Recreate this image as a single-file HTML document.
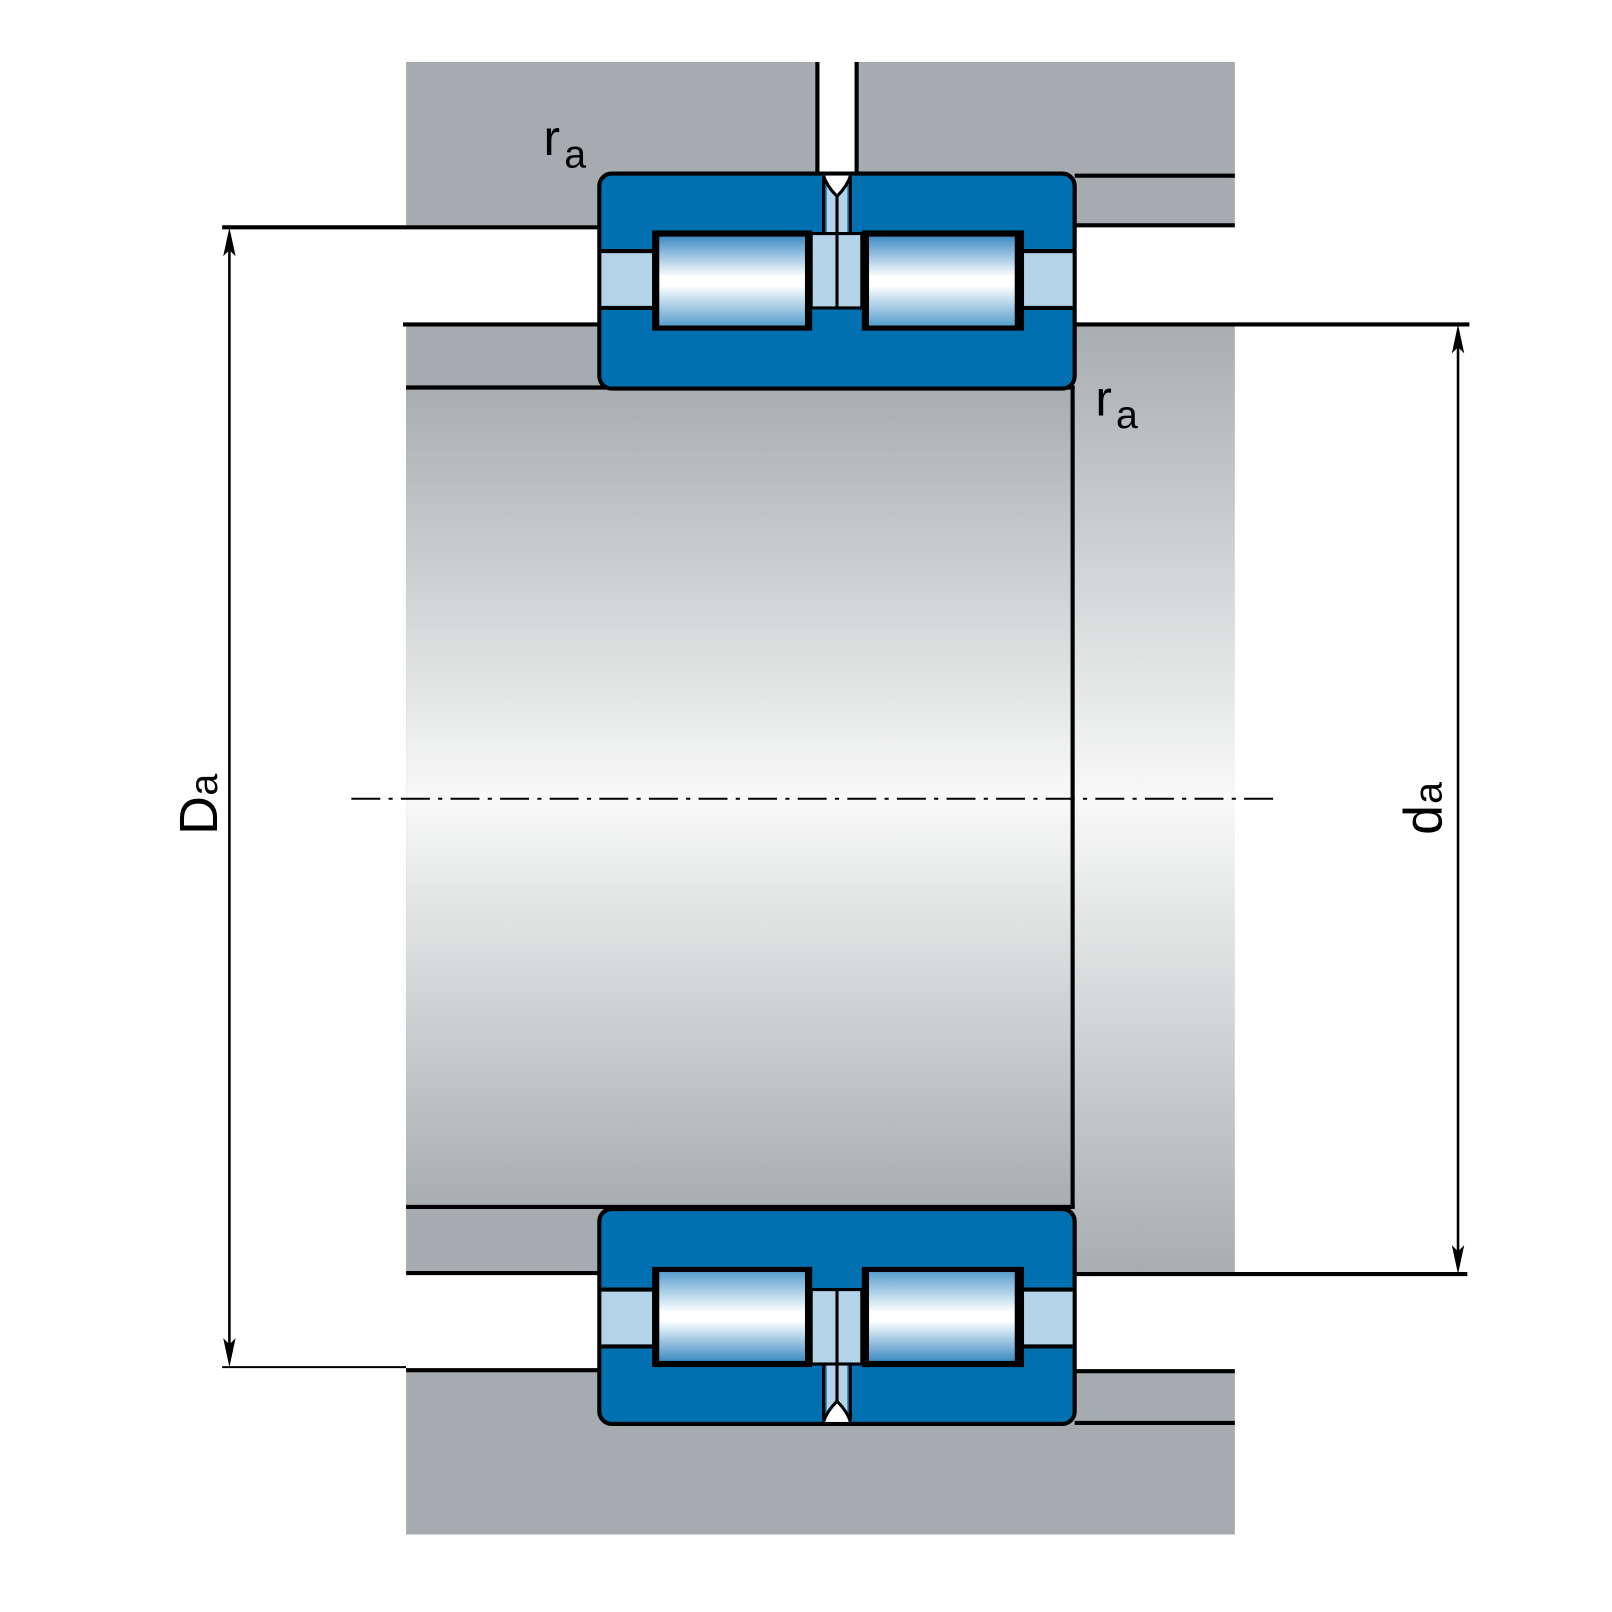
<!DOCTYPE html>
<html><head><meta charset="utf-8"><style>html,body{margin:0;padding:0;background:#fff}svg{display:block}</style></head>
<body>
<svg width="1612" height="1612" viewBox="0 0 1560 1560" xmlns="http://www.w3.org/2000/svg">
<defs>
<linearGradient id="shaft" x1="0" y1="375" x2="0" y2="1168" gradientUnits="userSpaceOnUse">
<stop offset="0" stop-color="#a8adb0"/><stop offset="0.5" stop-color="#f8f9f8"/><stop offset="1" stop-color="#a8adb0"/></linearGradient>
<linearGradient id="shaft2" x1="0" y1="313" x2="0" y2="1232" gradientUnits="userSpaceOnUse">
<stop offset="0" stop-color="#a8adb0"/><stop offset="0.5" stop-color="#f8f9f8"/><stop offset="1" stop-color="#a8adb0"/></linearGradient>
<linearGradient id="roll" x1="0" y1="0" x2="0" y2="1">
<stop offset="0" stop-color="#3f8cc4"/><stop offset="0.45" stop-color="#ffffff"/><stop offset="0.55" stop-color="#ffffff"/><stop offset="1" stop-color="#5a9fcf"/></linearGradient>
<g id="brg">
<rect x="580" y="168" width="460" height="208" rx="12" fill="#0070b0" stroke="#000" stroke-width="4"/>
<rect x="582" y="243" width="456" height="55" fill="#b3d4e8"/>
<line x1="582" y1="243" x2="632" y2="243" stroke="#000" stroke-width="4"/>
<line x1="582" y1="298" x2="632" y2="298" stroke="#000" stroke-width="4"/>
<line x1="990" y1="243" x2="1038" y2="243" stroke="#000" stroke-width="4"/>
<line x1="990" y1="298" x2="1038" y2="298" stroke="#000" stroke-width="4"/>
<rect x="800" y="170" width="20" height="58" fill="#b3d4e8"/>
<path d="M797 170 Q800 180 810 190 Q820 180 823 170" fill="#fff" stroke="#000" stroke-width="3"/>
<line x1="797" y1="172" x2="797" y2="228" stroke="#000" stroke-width="3"/>
<line x1="823" y1="172" x2="823" y2="228" stroke="#000" stroke-width="3"/>
<rect x="785" y="226" width="49" height="72" fill="#b3d4e8" stroke="#000" stroke-width="3"/>
<line x1="810" y1="188" x2="810" y2="298" stroke="#000" stroke-width="3"/>
<rect x="631" y="223" width="155" height="97" fill="#000"/>
<rect x="638" y="229" width="141" height="86" fill="url(#roll)"/>
<rect x="834" y="223" width="157" height="97" fill="#000"/>
<rect x="841" y="229" width="141" height="86" fill="url(#roll)"/>
</g>
</defs>
<rect x="393" y="60" width="802" height="158" fill="#a5abae"/>
<rect x="793" y="60" width="34" height="112" fill="#fff"/>
<line x1="791" y1="60" x2="791" y2="172" stroke="#000" stroke-width="4"/>
<line x1="829" y1="60" x2="829" y2="172" stroke="#000" stroke-width="4"/>
<rect x="393" y="1325" width="802" height="160" fill="#a5abae"/>
<rect x="393" y="313" width="650" height="919" fill="#a5abae"/>
<rect x="393" y="375" width="645" height="793" fill="url(#shaft)"/>
<rect x="1040" y="313" width="155" height="919" fill="url(#shaft2)"/>
<g stroke="#000" stroke-width="4">
<line x1="215" y1="220" x2="582" y2="220"/>
<line x1="1040" y1="170" x2="1195" y2="170"/>
<line x1="1040" y1="218" x2="1195" y2="218"/>
<line x1="390" y1="314" x2="582" y2="314"/>
<line x1="1040" y1="314" x2="1422" y2="314"/>
<line x1="393" y1="375" x2="1040" y2="375"/>
<line x1="1038" y1="375" x2="1038" y2="1170"/>
<line x1="393" y1="1168" x2="1040" y2="1168"/>
<line x1="393" y1="1232" x2="582" y2="1232"/>
<line x1="1040" y1="1233" x2="1420" y2="1233"/>
<line x1="393" y1="1326" x2="582" y2="1326"/>
<line x1="1040" y1="1327" x2="1195" y2="1327"/>
<line x1="1040" y1="1377" x2="1195" y2="1377"/>
</g>
<line x1="215" y1="1323" x2="393" y2="1323" stroke="#000" stroke-width="2"/>
<use href="#brg"/>
<use href="#brg" transform="translate(0,1546) scale(1,-1)"/>
<line x1="340" y1="773" x2="1240" y2="773" stroke="#000" stroke-width="2" stroke-dasharray="28,8,4,8"/>
<g stroke="#000" stroke-width="2.5">
<line x1="222" y1="228" x2="222" y2="1315"/>
<line x1="1411" y1="322" x2="1411" y2="1225"/>
</g>
<g fill="#000">
<path d="M222 220 L216 248 L222 242 L228 248 Z"/>
<path d="M222 1323 L216 1295 L222 1301 L228 1295 Z"/>
<path d="M1411 314 L1405 342 L1411 336 L1417 342 Z"/>
<path d="M1411 1233 L1405 1205 L1411 1211 L1417 1205 Z"/>
</g>
<g font-family="Liberation Sans, sans-serif" fill="#000">
<text x="526" y="150" font-size="48">r</text><text x="546" y="162" font-size="38">a</text>
<text x="1060" y="402" font-size="48">r</text><text x="1080" y="414" font-size="38">a</text>
<g transform="translate(210,808) rotate(-90)"><text x="0" y="0" font-size="52">D</text><text x="38" y="0" font-size="38">a</text></g>
<g transform="translate(1395,808) rotate(-90)"><text x="0" y="0" font-size="52">d</text><text x="30" y="0" font-size="38">a</text></g>
</g>
</svg>
</body></html>
